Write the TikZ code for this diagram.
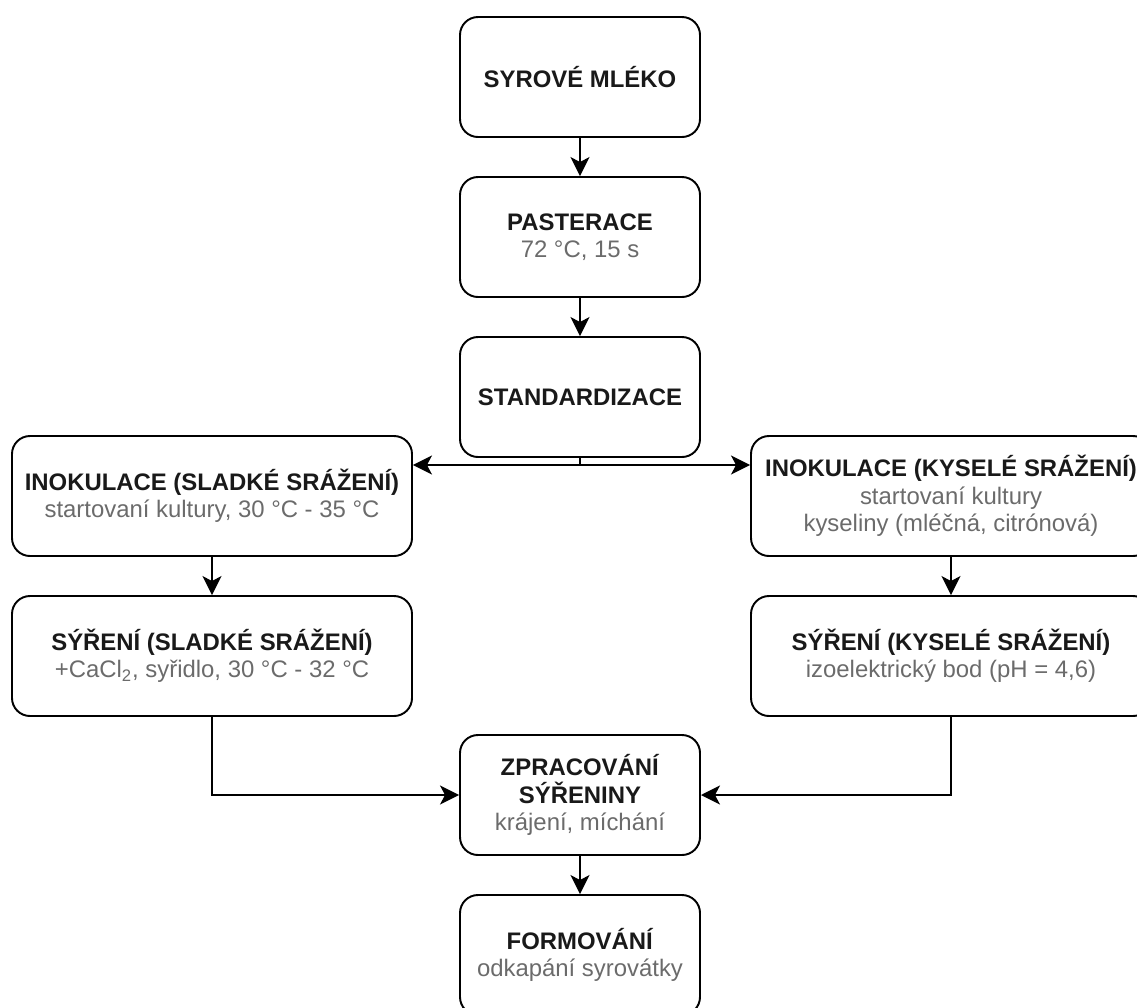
\documentclass[tikz,border=0pt]{standalone}
\usepackage{fontspec}
\setmainfont{Liberation Sans}
\usetikzlibrary{arrows.meta,positioning}
\definecolor{subgray}{gray}{0.42}
\newcommand{\ttl}[1]{\textbf{#1}}
\newcommand{\sub}[1]{{\color{subgray}#1}}

\begin{document}
\begin{tikzpicture}[
      font=\fontsize{13.6}{15.6}\selectfont,
      b/.style={draw, rounded corners=0.36cm, align=center, line width=1.1pt,
                minimum width=4.8cm, minimum height=2.4cm, text=black!90},
      w/.style={b, minimum width=8cm},
      a/.style={-{Stealth[length=0.38cm, width=0.38cm, inset=0.1cm]}, line width=1.1pt},
    ]
    \clip (0,0) rectangle (22.74,-20.14);
    % main line
    \node[b] (raw)  at (11.6,-1.54) {\ttl{SYROVÉ MLÉKO}};
    \node[b] (past) at (11.6,-4.74) {\ttl{PASTERACE}\\\sub{72 °C, 15 s}};
    \node[b] (std)  at (11.6,-7.94) {\ttl{STANDARDIZACE}};
    % sweet branch
    \node[w] (inokL) at (4.24,-9.92)  {\ttl{INOKULACE (SLADKÉ SRÁŽENÍ)}\\
                                       \sub{startovaní kultury, 30 °C - 35 °C}};
    \node[w] (syrL)  at (4.24,-13.12) {\ttl{SÝŘENÍ (SLADKÉ SRÁŽENÍ)}\\
                                       \sub{+CaCl\textsubscript{2}, syřidlo, 30 °C - 32 °C}};
    % acid branch
    \node[w] (inokR) at (19.02,-9.92)  {\ttl{INOKULACE (KYSELÉ SRÁŽENÍ)}\\
                                        \sub{startovaní kultury}\\
                                        \sub{kyseliny (mléčná, citrónová)}};
    \node[w] (syrR)  at (19.02,-13.12) {\ttl{SÝŘENÍ (KYSELÉ SRÁŽENÍ)}\\
                                        \sub{izoelektrický bod (pH = 4,6)}};
    % end
    \node[b] (zpr)  at (11.6,-15.9) {\ttl{ZPRACOVÁNÍ}\\\ttl{SÝŘENINY}\\\sub{krájení, míchání}};
    \node[b] (form) at (11.6,-19.1) {\ttl{FORMOVÁNÍ}\\\sub{odkapání syrovátky}};

    \coordinate (split) at (11.6,-9.3);

    \draw[a] (raw) -- (past);
    \draw[a] (past) -- (std);
    \draw[line width=1.1pt] (std) -- (split);
    \draw[a] (split) -- (split -| inokL.east);
    \draw[a] (split) -- (split -| inokR.west);
    \draw[a] (inokL) -- (syrL);
    \draw[a] (inokR) -- (syrR);
    \draw[a] (syrL.south) |- (zpr.west);
    \draw[a] (syrR.south) |- (zpr.east);
    \draw[a] (zpr) -- (form);
  \end{tikzpicture}
\end{document}
